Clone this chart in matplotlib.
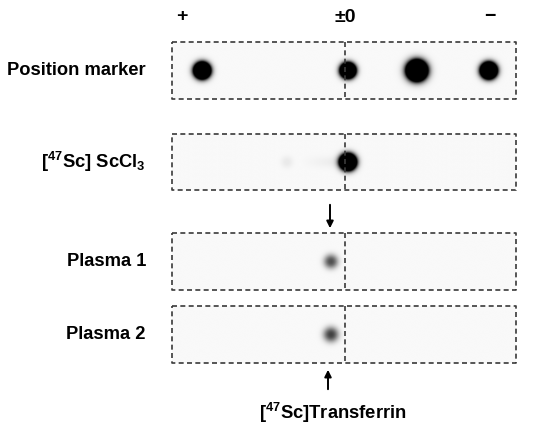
import matplotlib.pyplot as plt
import numpy as np

plt.rcParams['font.family'] = ['Liberation Sans', 'DejaVu Sans']
plt.rcParams['mathtext.fontset'] = 'custom'
plt.rcParams['mathtext.bf'] = 'Liberation Sans:bold'
plt.rcParams['mathtext.rm'] = 'Liberation Sans:bold'
plt.rcParams['mathtext.default'] = 'bf'

# lanes (top to bottom)
lane_names = ["Position marker", "[$^{47}$Sc] ScCl$_3$", "Plasma 1", "Plasma 2"]
lane_top = [42, 134, 233, 306]
lane_bottom = [99, 190, 290, 363]

# gel strip extent and origin (±0)
gel_left, gel_right = 172, 516
origin_x = 345

# spots per lane: x position, radius, peak darkness
spot_x = [[202, 348, 417, 489], [348, 287], [331], [331]]
spot_r = [[7.5, 7.0, 9.5, 7.5], [7.5, 6.0], [7.0], [7.5]]
spot_peak = [[6.0, 6.0, 6.0, 6.0], [6.0, 0.06], [0.66], [0.72]]

# faint tail of ScCl3 running toward the + side
tail_from, tail_to, tail_level = 300, 346, 0.07

poles = ["+", "±0", "−"]
pole_x = [182, 345, 490]

fig = plt.figure(figsize=(5.5, 4.29), dpi=100)
ax = fig.add_axes([0, 0, 1, 1])
ax.set_xlim(0, 550)
ax.set_ylim(429, 0)
ax.axis("off")

xs = np.linspace(gel_left, gel_right, 700)
for i, name in enumerate(lane_names):
    top, bot = lane_top[i], lane_bottom[i]
    ys = np.linspace(top, bot, 120)
    X, Y = np.meshgrid(xs, ys)
    yc = (top + bot) / 2
    img = np.full(X.shape, 0.025)
    for x0, r, pk in zip(spot_x[i], spot_r[i], spot_peak[i]):
        rr = np.sqrt((X - x0) ** 2 + (Y - yc) ** 2)
        if pk < 1:
            # faint, flatter spots
            img += pk * np.exp(-(rr / r) ** 2.4)
        else:
            sig = r / 1.6
            img += pk * np.exp(-rr ** 2 / (2 * sig ** 2))
    if i == 1:
        ramp = np.clip((X - tail_from) / (tail_to - tail_from), 0, 1)
        img += tail_level * ramp * np.exp(-(Y - yc) ** 2 / (2 * 4.0 ** 2)) * (X < tail_to + 2)
    img = np.clip(img, 0, 1)
    ax.imshow(img, cmap="gray_r", vmin=0, vmax=1, extent=(gel_left, gel_right, bot, top),
              interpolation="bilinear", aspect="auto")

    # dashed frame and origin line
    ax.plot([gel_left, gel_right, gel_right, gel_left, gel_left], [top, top, bot, bot, top],
            color="#3a3a3a", lw=1.2, ls=(0, (3, 2)))
    ax.plot([origin_x, origin_x], [top, bot], color="#3a3a3a", lw=1.2, ls=(0, (3, 2)))

    ax.text(146, yc, name, ha="right", va="center", fontsize=13.2, fontweight="bold")

for p, x in zip(poles, pole_x):
    ax.text(x, 17, p, ha="center", va="center", fontsize=14, fontweight="bold")

# arrows marking transferrin band
ax.annotate("", xy=(330, 231), xytext=(330, 202),
            arrowprops=dict(arrowstyle="-|>", color="black", lw=1.4, mutation_scale=10))
ax.annotate("", xy=(328, 367), xytext=(328, 392),
            arrowprops=dict(arrowstyle="-|>", color="black", lw=1.4, mutation_scale=10))
ax.text(333, 413, "[$^{47}$Sc]Transferrin", ha="center", va="center",
        fontsize=13.2, fontweight="bold")

fig.savefig("out.png", dpi=100)
